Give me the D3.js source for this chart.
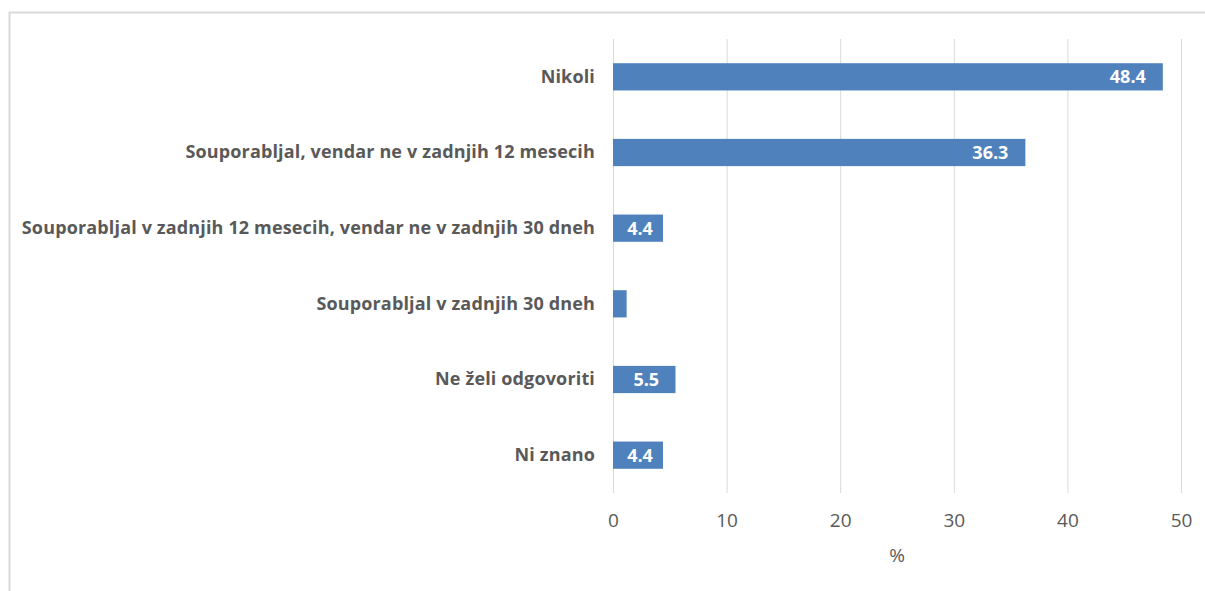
<!DOCTYPE html>
<html>
<head>
<meta charset="utf-8">
<script src="https://cdn.jsdelivr.net/npm/d3@7"></script>
<style>
  html, body { margin: 0; padding: 0; background: #fff; }
  svg { display: block; }
</style>
</head>
<body>
<svg id="chart" width="1205" height="591"></svg>
<script>
const categories = [
  "Nikoli",
  "Souporabljal, vendar ne v zadnjih 12 mesecih",
  "Souporabljal v zadnjih 12 mesecih, vendar ne v zadnjih 30 dneh",
  "Souporabljal v zadnjih 30 dneh",
  "Ne želi odgovoriti",
  "Ni znano"
];
const values = [48.4, 36.3, 4.4, 1.2, 5.5, 4.4];
const showLabel = [true, true, true, false, true, true];
const xTicks = [0, 10, 20, 30, 40, 50];
const axisTitle = "%";

(function () {
const svg = d3.select("#chart");
const W = 1205, H = 591;
const mLeft = 613, mRight = 1181, mTop = 39, mBottom = 493;
const font = "'Open Sans', sans-serif";

// chart frame (top and left border visible)
svg.append("line").attr("x1", 9).attr("x2", W).attr("y1", 12.5).attr("y2", 12.5)
  .attr("stroke", "#d9d9d9").attr("stroke-width", 2);
svg.append("line").attr("x1", 9.5).attr("x2", 9.5).attr("y1", 12).attr("y2", H)
  .attr("stroke", "#d9d9d9").attr("stroke-width", 2);

const x = d3.scaleLinear().domain([0, 50]).range([mLeft, mRight]);
const y = d3.scaleBand().domain(categories).range([mTop, mBottom]).paddingInner(0.64).paddingOuter(0.32);

// gridlines
const grid = svg.append("g").attr("transform", `translate(0,${mBottom})`)
  .call(d3.axisBottom(x).tickValues(xTicks).tickSize(-(mBottom - mTop)).tickFormat(""));
grid.select(".domain").remove();
grid.selectAll("line").attr("stroke", "#d9d9d9").attr("stroke-width", 1);

// x tick labels
const xa = svg.append("g").attr("transform", `translate(0,${mBottom})`)
  .call(d3.axisBottom(x).tickValues(xTicks).tickSize(0).tickPadding(21));
xa.select(".domain").remove();
xa.selectAll("text").attr("font-family", font).attr("font-size", 19).attr("fill", "#595959");

svg.append("text").attr("x", (mLeft + mRight) / 2).attr("y", 562)
  .attr("text-anchor", "middle").attr("font-family", font).attr("font-size", 19)
  .attr("fill", "#595959").text(axisTitle);

const rows = categories.map((c, i) => ({ c, v: values[i], show: showLabel[i] }));

// bars
svg.append("g").selectAll("rect").data(rows).join("rect")
  .attr("x", x(0))
  .attr("y", d => y(d.c))
  .attr("width", d => x(d.v) - x(0))
  .attr("height", y.bandwidth())
  .attr("fill", "#4f81bd");

// data labels (inside end, centred when the bar is short)
const labels = svg.append("g").selectAll("text").data(rows.filter(d => d.show)).join("text")
  .attr("y", d => y(d.c) + y.bandwidth() / 2)
  .attr("dy", "0.36em")
  .attr("text-anchor", "middle")
  .attr("font-family", font).attr("font-size", 18).attr("font-weight", "bold")
  .attr("fill", "#fff")
  .text(d => d.v.toFixed(1));
labels.attr("x", function (d) {
  const w = this.getComputedTextLength();
  const mid = (x(0) + x(d.v)) / 2 + 2;
  return Math.max(mid, x(d.v) - 17 - w / 2);
});

// category labels
const ya = svg.append("g").attr("transform", `translate(${mLeft},0)`)
  .call(d3.axisLeft(y).tickSize(0).tickPadding(18));
ya.select(".domain").remove();
ya.selectAll("text").attr("font-family", font).attr("font-size", 18)
  .attr("font-weight", "bold").attr("fill", "#595959")
  .attr("letter-spacing", 0.15);
})();
</script>
</body>
</html>
